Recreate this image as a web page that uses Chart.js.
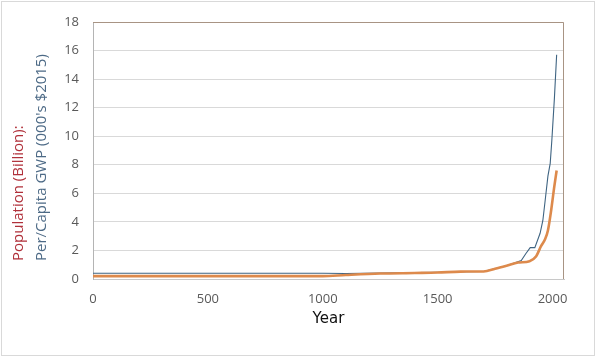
<!DOCTYPE html>
<html>
<head>
<meta charset="utf-8">
<script src="https://cdn.jsdelivr.net/npm/chart.js@4/dist/chart.umd.min.js"></script>
<style>
  html, body { margin: 0; padding: 0; background: #fff; }
  #wrap { width: 599px; height: 358px; position: relative; }
</style>
</head>
<body>
<div id="wrap"><canvas id="c" width="599" height="358"></canvas></div>
<script>
// population (billion)
const popYears = [0, 500, 1000, 1100, 1250, 1400, 1500, 1600, 1700, 1750, 1800, 1850, 1900, 1929, 1950, 1968, 1980, 1994, 2008, 2018];
const popValues = [0.2, 0.2, 0.2, 0.28, 0.38, 0.42, 0.45, 0.52, 0.53, 0.72, 0.93, 1.15, 1.25, 1.6, 2.3, 2.8, 3.4, 4.8, 6.5, 7.6];

// per capita GWP (000's $2015) - blue line
const gwpYears = [0, 500, 1000, 1100, 1250, 1500, 1700, 1800, 1864, 1885, 1903, 1923, 1946, 1958, 1968, 1980, 1990, 1997, 2008, 2018];
const gwpValues = [0.4, 0.4, 0.4, 0.38, 0.42, 0.47, 0.53, 0.93, 1.3, 1.8, 2.2, 2.2, 3.2, 4.1, 5.5, 7.2, 8.1, 9.7, 12.6, 15.7];

const xTicks = [0, 500, 1000, 1500, 2000];
const yTicks = [0, 2, 4, 6, 8, 10, 12, 14, 16, 18];

const toPoints = (xs, ys) => xs.map((x, i) => ({ x: x, y: ys[i] }));

// outer frame + the two-colour y title
const decor = {
  id: "decor",
  beforeDraw(chart) {
    const ctx = chart.ctx;
    ctx.save();
    ctx.fillStyle = "#fff";
    ctx.fillRect(0, 0, chart.width, chart.height);
    ctx.strokeStyle = "#d9d9d9";
    ctx.lineWidth = 1;
    ctx.strokeRect(1.5, 1.5, 593, 354);
    ctx.restore();
  },
  afterDraw(chart) {
    const ctx = chart.ctx;
    const a = chart.chartArea;
    ctx.save();
    // plot border on top/right
    ctx.strokeStyle = "#a89484";
    ctx.lineWidth = 1;
    ctx.beginPath();
    ctx.moveTo(a.left, a.top + 0.5);
    ctx.lineTo(a.right - 0.5, a.top + 0.5);
    ctx.lineTo(a.right - 0.5, a.bottom);
    ctx.stroke();
    // y title, rotated, bottom aligned
    ctx.translate(0, 261);
    ctx.rotate(-Math.PI / 2);
    ctx.font = "15px 'Open Sans'";
    ctx.textBaseline = "middle";
    ctx.textAlign = "left";
    ctx.fillStyle = "#b0303a";
    ctx.fillText("Population (Billion):", 0, 19);
    ctx.fillStyle = "#4d6a86";
    ctx.fillText("Per/Capita GWP (000's $2015)", 0, 42);
    ctx.restore();
  }
};

new Chart(document.getElementById("c"), {
  type: "scatter",
  data: {
    datasets: [
      {
        label: "Population",
        data: toPoints(popYears, popValues),
        showLine: true,
        borderColor: "#dd8a4c",
        borderWidth: 2.6,
        pointRadius: 0,
        cubicInterpolationMode: "monotone"
      },
      {
        label: "Per Capita GWP",
        data: toPoints(gwpYears, gwpValues),
        showLine: true,
        borderColor: "#3f6482",
        borderWidth: 1.1,
        pointRadius: 0,
        tension: 0
      }
    ]
  },
  options: {
    responsive: false,
    animation: false,
    layout: { padding: { top: 22, right: 35, left: 0, bottom: 0 } },
    plugins: {
      legend: { display: false },
      tooltip: { enabled: false }
    },
    scales: {
      x: {
        type: "linear",
        min: 0,
        max: 2050,
        afterBuildTicks: s => { s.ticks = xTicks.map(v => ({ value: v })); },
        afterFit: s => { s.height = 79; },
        grid: { display: false, drawTicks: false },
        border: { color: "#c8c8c8" },
        ticks: {
          padding: 12,
          color: "#595959",
          font: { family: "Open Sans", size: 13 },
          callback: v => String(v)
        },
        title: {
          display: true,
          text: "Year",
          color: "#111",
          font: { family: "DejaVu Sans", size: 15 },
          padding: { top: 6, bottom: 30 }
        }
      },
      y: {
        min: 0,
        max: 18,
        afterBuildTicks: s => { s.ticks = yTicks.map(v => ({ value: v })); },
        afterFit: s => { s.width = 93; },
        grid: { color: "#d9d9d9", drawTicks: false },
        border: { color: "#b4b4b4" },
        ticks: { padding: 14, color: "#595959", font: { family: "Open Sans", size: 13 } }
      }
    }
  },
  plugins: [decor]
});
</script>
</body>
</html>
